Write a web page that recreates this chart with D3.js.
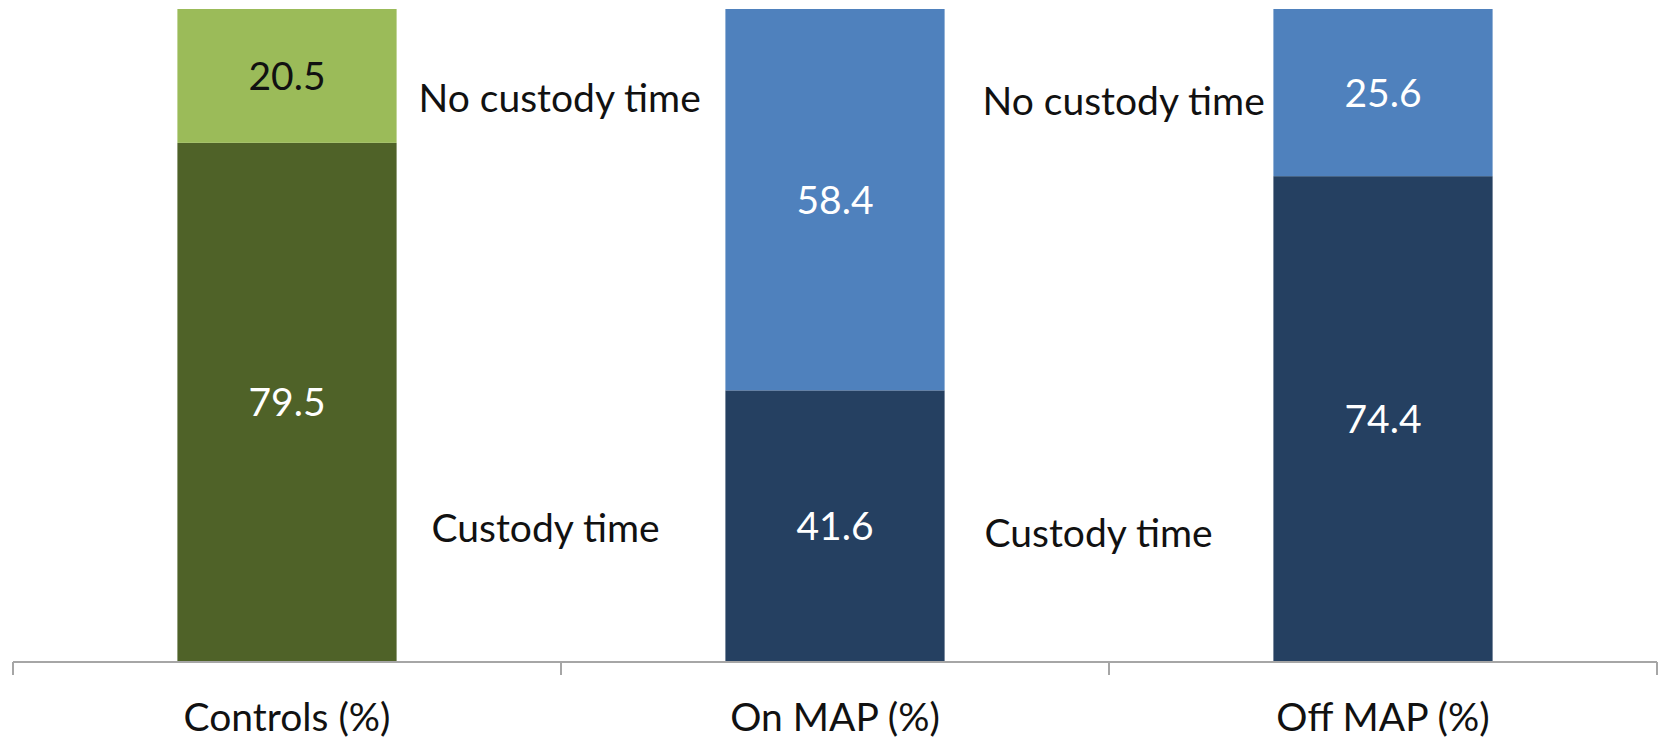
<!DOCTYPE html>
<html>
<head>
<meta charset="utf-8">
<script src="https://cdn.jsdelivr.net/npm/d3@7"></script>
<style>
  html, body { margin: 0; padding: 0; background: #ffffff; }
  svg { display: block; }
  text { font-family: Lato, "Open Sans", "Noto Sans", sans-serif; }
</style>
</head>
<body>
<svg id="chart" width="1665" height="740"></svg>
<script>
// Share of each group with / without custody time (%)
const categories = ["Controls (%)", "On MAP (%)", "Off MAP (%)"];
const custodyTime = [79.5, 41.6, 74.4];
const noCustodyTime = [20.5, 58.4, 25.6];

// Side annotations naming the two segments
const annotationLabels = ["No custody time", "Custody time", "No custody time", "Custody time"];
const annotationAfter = ["Controls (%)", "Controls (%)", "On MAP (%)", "On MAP (%)"];
const annotationLevel = [84.2, 18.4, 83.8, 17.6];

const width = 1665, height = 740;
const svg = d3.select("#chart");

const x = d3.scaleBand()
  .domain(categories)
  .range([13, 1657])
  .paddingInner(0.6)
  .paddingOuter(0.3);

const y = d3.scaleLinear().domain([0, 100]).range([662, 9]);

// colours per group: [custody, no custody]
const fills = {
  "Controls (%)": ["#4F6228", "#9BBB59"],
  "On MAP (%)": ["#254061", "#4F81BD"],
  "Off MAP (%)": ["#254061", "#4F81BD"]
};
const labelColours = {
  "Controls (%)": ["#ffffff", "#111111"],
  "On MAP (%)": ["#ffffff", "#ffffff"],
  "Off MAP (%)": ["#ffffff", "#ffffff"]
};

const rows = categories.map((c, i) => ({ cat: c, custody: custodyTime[i], none: noCustodyTime[i] }));
const stack = d3.stack().keys(["custody", "none"])(rows);

const layers = svg.append("g").selectAll("g")
  .data(stack)
  .join("g");

layers.selectAll("rect")
  .data((layer, k) => layer.map(d => ({ d, k })))
  .join("rect")
  .attr("x", e => x(e.d.data.cat))
  .attr("width", x.bandwidth())
  .attr("y", e => y(e.d[1]))
  .attr("height", e => y(e.d[0]) - y(e.d[1]))
  .attr("fill", e => fills[e.d.data.cat][e.k]);

// value labels centred in each segment
layers.selectAll("text")
  .data((layer, k) => layer.map(d => ({ d, k })))
  .join("text")
  .attr("x", e => x(e.d.data.cat) + x.bandwidth() / 2)
  .attr("y", e => y((e.d[0] + e.d[1]) / 2))
  .attr("dy", "0.36em")
  .attr("text-anchor", "middle")
  .attr("font-size", 39)
  .attr("fill", e => labelColours[e.d.data.cat][e.k])
  .text(e => d3.format(".1f")(e.d[1] - e.d[0]));

// category axis: baseline with ticks on band boundaries
const axis = d3.axisBottom(x).tickSize(0).tickPadding(0).tickFormat(d => d);
const gAxis = svg.append("g").attr("transform", `translate(0,${y(0)})`).call(axis);
gAxis.select(".domain").remove();
gAxis.selectAll(".tick line").remove();
gAxis.selectAll(".tick text")
  .attr("y", 69)
  .attr("dy", 0)
  .attr("font-size", 39)
  .attr("font-family", 'Lato, "Open Sans", sans-serif')
  .attr("fill", "#111111");

const step = x.step();
const bounds = d3.range(categories.length + 1).map(i => 13 + i * step);
gAxis.append("line")
  .attr("x1", bounds[0]).attr("x2", bounds[bounds.length - 1])
  .attr("y1", 0).attr("y2", 0)
  .attr("stroke", "#A6A6A6").attr("stroke-width", 2.2);
gAxis.selectAll(".bound")
  .data(bounds)
  .join("line")
  .attr("class", "bound")
  .attr("x1", d => d).attr("x2", d => d)
  .attr("y1", 0).attr("y2", 13)
  .attr("stroke", "#A6A6A6").attr("stroke-width", 2);

// segment annotations beside the bars
const annotationGap = [22, 35, 38, 40];
svg.append("g").selectAll("text")
  .data(annotationLabels.map((t, i) => ({ t, cat: annotationAfter[i], v: annotationLevel[i], gap: annotationGap[i] })))
  .join("text")
  .attr("x", d => x(d.cat) + x.bandwidth() + d.gap)
  .attr("y", d => y(d.v))
  .attr("font-size", 39)
  .attr("fill", "#111111")
  .text(d => d.t);
</script>
</body>
</html>
